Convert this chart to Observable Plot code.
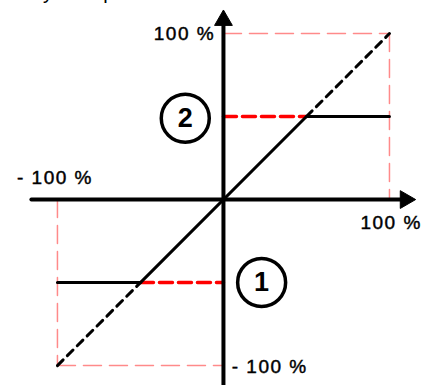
<!DOCTYPE html>
<html>
<head>
<meta charset="utf-8">
<script src="https://cdn.jsdelivr.net/npm/d3@7"></script>
<script src="https://cdn.jsdelivr.net/npm/@observablehq/plot@0.6"></script>
<style>
  html, body { margin: 0; padding: 0; background: #fff; }
  #wrap { position: relative; width: 422px; height: 385px; overflow: hidden; }
  #cut { position: absolute; left: 32px; top: -19px; font: 20px "Liberation Sans", Arial, sans-serif; color: #000; white-space: nowrap; }
  .ticklbl text { letter-spacing: 1.5px; stroke: #000; stroke-width: 0.45px; }
</style>
</head>
<body>
<div id="wrap"><div id="cut">by the operator</div></div>
<script>
// Transfer characteristic (percent of full scale)
const satX = [-100, -50, 50, 100];
const satY = [-50, -50, 50, 50];
// Ideal linear continuation (dashed)
const linLowX = [-100, -50], linLowY = [-100, -50];
const linHighX = [50, 100], linHighY = [50, 100];
// Saturation level markers (red dashed)
const markHighX = [0, 50], markHighY = [50, 50];
const markLowX = [-50, 0], markLowY = [-50, -50];
// Full-scale frame (pink dashed)
const frameTopX = [0, 100], frameTopY = [100, 100];
const frameRightX = [100, 100], frameRightY = [100, 0];
const frameLeftX = [-100, -100], frameLeftY = [0, -100];
const frameBottomX = [-100, 0], frameBottomY = [-100, -100];
// Axes extents
const axisXRange = [-115.7, 109.6];
const axisYRange = [-112, 108];
// Tick labels
const tickLabels = ["100 %", "- 100 %", "100 %", "- 100 %"];
const tickX = [-5, -101.5, 101, 5];
const tickY = [100, 13, -14, -100.5];
const tickAnchor = ["end", "middle", "middle", "start"];
// Callouts
const calloutText = ["2", "1"];
const calloutX = [-23, 23];
const calloutY = [49, -50];

const pts = (xs, ys) => xs.map((x, i) => ({x, y: ys[i]}));

const pinkStyle = {x: "x", y: "y", stroke: "#ff8a8a", strokeWidth: 1.5, strokeDasharray: "18 8"};
const ticks = tickLabels.map((t, i) => ({t, x: tickX[i], y: tickY[i], a: tickAnchor[i]}));
const callouts = calloutText.map((t, i) => ({t, x: calloutX[i], y: calloutY[i]}));
const tickMark = (anchor) => Plot.text(ticks.filter(d => d.a === anchor),
  {x: "x", y: "y", text: "t", textAnchor: anchor, fontSize: 19, fill: "#000", className: "ticklbl"});

const plot = Plot.plot({
  width: 422,
  height: 385,
  margin: 0,
  x: {domain: [-134.3, 119.9], axis: null},
  y: {domain: [-112, 119.9], axis: null},
  style: {background: "transparent", fontFamily: "Liberation Sans, Arial, sans-serif"},
  marks: [
    Plot.line(pts(frameTopX, frameTopY), pinkStyle),
    Plot.line(pts(frameRightX, frameRightY), pinkStyle),
    Plot.line(pts(frameLeftX, frameLeftY), pinkStyle),
    Plot.line(pts(frameBottomX, frameBottomY), pinkStyle),
    Plot.line(pts(markHighX, markHighY), {x: "x", y: "y", stroke: "#ff0000", strokeWidth: 3.5, strokeDasharray: "13 6"}),
    Plot.line(pts(markLowX, markLowY), {x: "x", y: "y", stroke: "#ff0000", strokeWidth: 3.5, strokeDasharray: "13 6"}),
    Plot.line(pts(linLowX, linLowY), {x: "x", y: "y", stroke: "#000", strokeWidth: 3, strokeDasharray: "8 6"}),
    Plot.line(pts(linHighX, linHighY), {x: "x", y: "y", stroke: "#000", strokeWidth: 3, strokeDasharray: "8 6"}),
    Plot.line(pts(satX, satY), {x: "x", y: "y", stroke: "#000", strokeWidth: 3, strokeLinejoin: "miter"}),
    Plot.line(pts(axisXRange, [0, 0]), {x: "x", y: "y", stroke: "#000", strokeWidth: 4}),
    Plot.line(pts([0, 0], axisYRange), {x: "x", y: "y", stroke: "#000", strokeWidth: 4}),
    Plot.dot([{x: axisXRange[1], y: 0, rot: 90}, {x: 0, y: axisYRange[1], rot: 0}],
      {x: "x", y: "y", rotate: "rot", symbol: "triangle", r: 6.6, fill: "#000", stroke: "#000", strokeWidth: 1}),
    tickMark("end"),
    tickMark("middle"),
    tickMark("start"),
    Plot.dot(callouts, {x: "x", y: "y", r: 24, stroke: "#000", strokeWidth: 3.5, fill: "#fff"}),
    Plot.text(callouts, {x: "x", y: "y", text: "t", fontSize: 27, fontWeight: "bold", fill: "#000"})
  ]
});
document.getElementById("wrap").prepend(plot);
</script>
</body>
</html>
